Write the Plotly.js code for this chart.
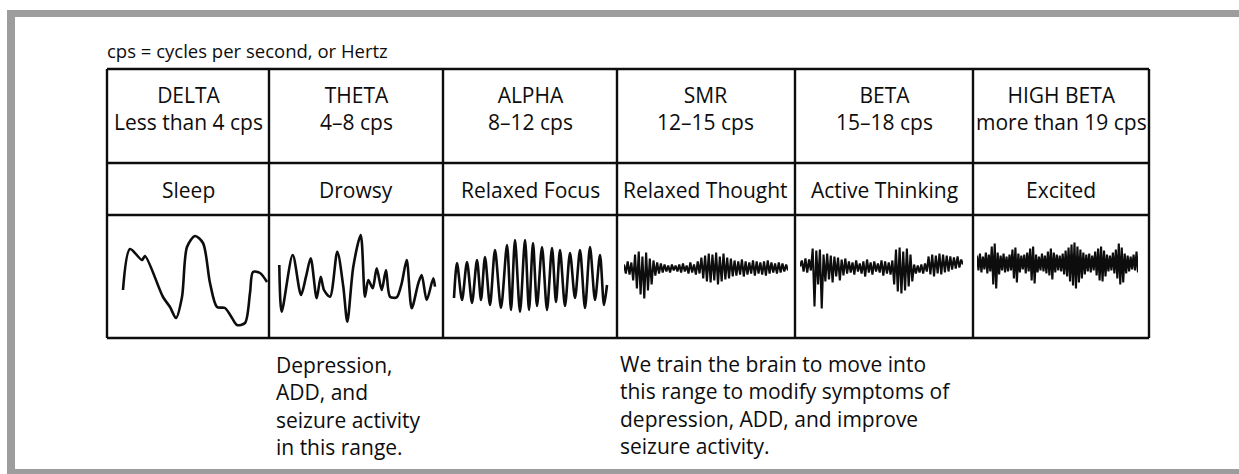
<!DOCTYPE html>
<html><head><meta charset="utf-8">
<script src="https://cdn.plot.ly/plotly-3.0.1.min.js"></script>
<style>html,body{margin:0;padding:0;background:#fff}#chart{width:1239px;height:474px}</style>
</head><body><div id="chart"></div>
<script>
// ---------------- data ----------------
const bandNames = ["DELTA","THETA","ALPHA","SMR","BETA","HIGH BETA"];
const bandRanges = ["Less than 4 cps","4\u20138 cps","8\u201312 cps","12\u201315 cps","15\u201318 cps","more than 19 cps"];
const bandStates = ["Sleep","Drowsy","Relaxed Focus","Relaxed Thought","Active Thinking","Excited"];
const legendNote = "cps = cycles per second, or Hertz";
const noteLow = ["Depression,","ADD, and","seizure activity","in this range."];
const noteTrain = ["We train the brain to move into","this range to modify symptoms of","depression, ADD, and improve","seizure activity."];

// slow waves: sample time and amplitude
const deltaT = [16,23,35,38,56,63,69,75,80,88,96,103,110,118,125,130,138,143,146,153,160];
const deltaV = [-13.5,27.5,16.5,20.5,-20.5,-30.5,-41.5,-20.5,29.5,40.5,33.5,-6.5,-30.5,-31.5,-41.5,-48.5,-46.5,-16.5,4.5,3.5,-5.5];

const thetaT = [10.3,12.7,23.7,32,37,41.7,47.7,51.7,55,61,68.3,74.3,78.3,84.3,91.7,96,99.3,103.7,107.7,112.7,117,121,127.7,132.7,137.7,142.7,149.3,152.7,157.7,164.3,166];
const thetaV = [11.5,-35.2,21.5,-18.5,-0.2,18.2,-21.8,-0.2,-13.5,-20.2,24.8,-10.2,-45.2,9.8,41.5,-20.2,-3.5,-11.8,8.2,-13.5,6.5,-20.2,-20.8,-6.8,16.5,-31.8,-6.8,1.5,-23.5,-1.8,-10.2];

const alphaT = [11,14,19,24,29,34,38,42,47,52,58,64,68,72,77,82,86,90,94,99,104,109,113,117,122,127,132,137,142,147,152,157,161,164];
const alphaV = [-21.5,13.5,-23.5,14.5,-26.5,16.5,-23.5,19.5,-28.5,26.5,-31.5,31.5,-33.5,36.5,-35.5,36.5,-33.5,33.5,-29.5,29.5,-33.5,28.5,-25.5,26.5,-29.5,23.5,-21.5,26.5,-31.5,29.5,-23.5,21.5,-28.5,-8.5];

// fast waves: successive peaks and troughs
const smrV = [12,3,15,2,14,
  -4,22,-12,25,-18,20,-22,24,-14,18,-8,
  16,1,14,3,13,4,
  12,5,11,4,12,6,11,5,12,4,13,5,11,3,14,4,12,2,15,3,
  19,-2,21,-5,23,-6,22,-4,24,-8,20,-5,23,-3,19,-2,18,0,
  16,1,15,2,17,0,15,2,14,3,16,1,15,3,14,2,15,1,16,3,14,4,13,3,14,4,13,5,12,6];
const betaV = [10,16,5,18,4,17,6,
  28,-30,26,-8,27,-32,22,
  -5,23,-3,21,-6,20,0,19,-4,17,1,18,
  3,15,4,14,2,16,5,13,3,15,0,17,4,14,2,15,5,13,4,16,1,15,3,14,2,16,
  -8,27,-15,29,-17,25,-14,28,-10,22,-5,
  12,3,11,4,12,3,13,5,
  20,2,22,0,21,3,23,2,22,4,21,5,20,7,19,8,20,9,17,12];
const highBetaV = [21,6,23,4,20,7,24,3,22,5,30,-8,33,-12,24,2,21,6,23,4,
  20,5,22,6,27,-2,29,-6,23,4,21,7,22,3,24,5,28,-4,30,-7,
  22,4,20,6,23,5,21,3,25,1,28,-3,24,4,22,6,21,5,23,2,
  26,0,29,-5,32,-9,34,-12,30,-6,27,-2,24,2,22,5,23,4,21,6,
  25,1,28,-4,30,-5,26,0,22,5,21,6,24,3,27,-2,33,-8,29,-6,
  23,3,21,5,20,7,22,6,25,4];

// ---------------- layout ----------------
const W = 1239, H = 474;
const px = x => x / W, py = y => 1 - y / H;
const colEdges = [107, 269, 443, 617, 795, 973, 1149];
const rowEdges = [69, 163, 215, 338];
const FONT = "'Open Sans', 'Noto Sans', sans-serif";
const INK = "#0d0d0d";

const shapes = [];
const frame = "#9d9d9d";
shapes.push({type:"rect", xref:"paper", yref:"paper", x0:px(7), x1:1, y0:py(17), y1:py(10), fillcolor:frame, line:{width:0}, layer:"below"});
shapes.push({type:"rect", xref:"paper", yref:"paper", x0:px(7), x1:px(15), y0:0, y1:py(10), fillcolor:frame, line:{width:0}, layer:"below"});
shapes.push({type:"rect", xref:"paper", yref:"paper", x0:px(7), x1:1, y0:0, y1:py(469), fillcolor:frame, line:{width:0}, layer:"below"});
colEdges.forEach(x => shapes.push({type:"line", xref:"paper", yref:"paper", x0:px(x), x1:px(x), y0:py(rowEdges[0]), y1:py(rowEdges[3]), line:{color:INK, width:2.4}}));
rowEdges.forEach(y => shapes.push({type:"line", xref:"paper", yref:"paper", x0:px(colEdges[0]), x1:px(colEdges[6]), y0:py(y), y1:py(y), line:{color:INK, width:2.4}}));

const annotations = [];
annotations.push({xref:"paper", yref:"paper", x:px(105), y:py(50), xanchor:"left", yanchor:"middle", showarrow:false, text:legendNote, font:{family:FONT, size:18.5, color:INK}});
bandNames.forEach((n, i) => {
  const cx = px((colEdges[i] + colEdges[i+1]) / 2);
  annotations.push({xref:"paper", yref:"paper", x:cx, y:py(108), xanchor:"center", yanchor:"middle", showarrow:false, align:"center",
    text:n + "<br>" + bandRanges[i], font:{family:FONT, size:21, color:INK}});
  annotations.push({xref:"paper", yref:"paper", x:cx, y:py(190), xanchor:"center", yanchor:"middle", showarrow:false,
    text:bandStates[i], font:{family:FONT, size:21, color:INK}});
});
annotations.push({xref:"paper", yref:"paper", x:px(274), y:py(406), xanchor:"left", yanchor:"middle", showarrow:false, align:"left",
  text:noteLow.join("<br>"), font:{family:FONT, size:21, color:INK}});
annotations.push({xref:"paper", yref:"paper", x:px(618), y:py(405), xanchor:"left", yanchor:"middle", showarrow:false, align:"left",
  text:noteTrain.join("<br>"), font:{family:FONT, size:21, color:INK}});

const layout = {
  width: W, height: H, margin:{l:0, r:0, t:0, b:0},
  paper_bgcolor:"#fff", plot_bgcolor:"rgba(0,0,0,0)",
  showlegend:false, shapes, annotations,
  xaxis:{visible:false, range:[0,1], domain:[0,1]},
  yaxis:{visible:false, range:[0,1], domain:[0,1]}
};

const traces = [];
const slow = [[deltaT, deltaV], [thetaT, thetaV], [alphaT, alphaV]];
const fast = [smrV, betaV, highBetaV];
// fast wave horizontal spans inside their cells
const fastSpans = [[624, 788], [800, 963], [977, 1138]];
const yDom = [py(rowEdges[3]), py(rowEdges[2])];
const half = (rowEdges[3] - rowEdges[2]) / 2;
for (let i = 0; i < 6; i++) {
  const k = i + 2;
  let xs, ys, dom, rng, lw, shape;
  if (i < 3) {
    xs = slow[i][0]; ys = slow[i][1];
    dom = [px(colEdges[i]), px(colEdges[i+1])];
    rng = [0, colEdges[i+1] - colEdges[i]];
    lw = 2.6; shape = "spline";
  } else {
    ys = fast[i-3]; xs = ys.map((_, j) => j);
    dom = [px(fastSpans[i-3][0]), px(fastSpans[i-3][1])];
    rng = [0, ys.length - 1];
    lw = 2.1; shape = "linear";
  }
  layout["xaxis" + k] = {domain:dom, range:rng, visible:false, fixedrange:true, anchor:"y" + k};
  layout["yaxis" + k] = {domain:yDom, range:[-half, half], visible:false, fixedrange:true, anchor:"x" + k};
  traces.push({type:"scatter", mode:"lines", x:xs, y:ys, xaxis:"x" + k, yaxis:"y" + k,
    line:{color:INK, width:lw, shape:shape, smoothing:0.8}, hoverinfo:"skip", name:bandNames[i]});
}

Plotly.newPlot("chart", traces, layout, {staticPlot:true, displayModeBar:false});
</script></body></html>
